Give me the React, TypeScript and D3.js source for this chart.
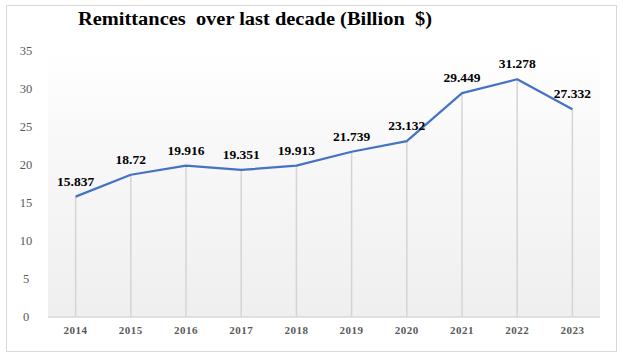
import React from "react";
import * as d3 from "d3";

const years = ["2014", "2015", "2016", "2017", "2018", "2019", "2020", "2021", "2022", "2023"];
const remittances = [15.837, 18.72, 19.916, 19.351, 19.913, 21.739, 23.132, 29.449, 31.278, 27.332];
const labels = ["15.837", "18.72", "19.916", "19.351", "19.913", "21.739", "23.132", "29.449", "31.278", "27.332"];
const yTicks = [0, 5, 10, 15, 20, 25, 30, 35];
const title = "Remittances  over last decade (Billion  $)";

const W = 623, H = 362;
const plot = { left: 48, right: 600, top: 51, bottom: 317 };
const font = "'Liberation Serif', 'DejaVu Serif', serif";

export default function App() {
  const x = d3.scaleBand<string>().domain(years).range([plot.left, plot.right]);
  const y = d3.scaleLinear().domain([0, 35]).range([plot.bottom, plot.top]);
  const cx = (d: string) => (x(d) as number) + x.bandwidth() / 2;
  const line = d3.line<number>().x((_, i) => cx(years[i])).y((v) => y(v));

  return (
    <svg width={W} height={H} style={{ position: "absolute", left: 0, top: 0, background: "#fff" }}>
      <defs>
        <linearGradient id="bg" x1="0" y1="0" x2="0" y2="1">
          <stop offset="0" stopColor="#ffffff" />
          <stop offset="0.3" stopColor="#f9f9f9" />
          <stop offset="1" stopColor="#efefef" />
        </linearGradient>
      </defs>
      <rect x={6.5} y={5.5} width={610} height={346} fill="#fff" stroke="#d9d9d9" />
      <text x={78} y={25} fontFamily={font} fontWeight="bold" fontSize={18.5} fill="#000" textLength={354} lengthAdjust="spacingAndGlyphs" style={{ whiteSpace: "pre" }}>
        {title}
      </text>
      <rect x={plot.left} y={plot.top} width={plot.right - plot.left} height={plot.bottom - plot.top} fill="url(#bg)" />
      {yTicks.map((t) => (
        <text key={t} x={26} y={y(t) + 4} textAnchor="middle" fontFamily={font} fontSize={12.5} fill="#595959">
          {t}
        </text>
      ))}
      {years.map((yr, i) => (
        <g key={yr}>
          <line x1={cx(yr)} x2={cx(yr)} y1={y(remittances[i])} y2={plot.bottom} stroke="#d4d4d4" strokeWidth={1.5} />
          <text x={cx(yr)} y={334} textAnchor="middle" fontFamily={font} fontWeight="bold" fontSize={11} letterSpacing={0.5} fill="#595959">
            {yr}
          </text>
        </g>
      ))}
      <line x1={plot.left} x2={plot.right} y1={plot.bottom} y2={plot.bottom} stroke="#d9d9d9" strokeWidth={1.5} />
      <path d={line(remittances) || ""} fill="none" stroke="#4472C4" strokeWidth={2.2} strokeLinejoin="round" />
      {years.map((yr, i) => (
        <text key={yr} x={cx(yr)} y={y(remittances[i]) - 11} textAnchor="middle" fontFamily={font} fontWeight="bold" fontSize={13.5} fill="#000">
          {labels[i]}
        </text>
      ))}
    </svg>
  );
}
